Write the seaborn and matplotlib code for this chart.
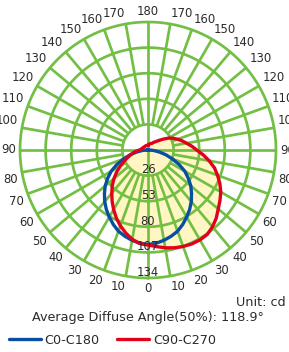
import numpy as np
import pandas as pd
import matplotlib
matplotlib.use("Agg")
import matplotlib.pyplot as plt
import seaborn as sns

# ---- data (cd), every 5 degrees ----
angles = list(range(0, 185, 5))
c0_c180 = [99, 98, 96, 93.5, 90.5, 86, 81, 76, 70.5, 64.5, 58.5, 51.5, 44.5, 36, 27, 19.5, 12, 6, 2,
           0, 0, 0, 0, 0, 0, 0, 0, 0, 0, 0, 0, 0, 0, 0, 0, 0, 0]
c90 = [99.5, 101.5, 104, 106, 107.5, 108.5, 108.7, 108, 105, 101, 96, 92, 88, 83, 77.5, 72, 65, 58, 51,
       46, 41, 37, 33, 29, 25, 20, 16, 13, 11, 9.5, 8, 7.5, 7, 6.5, 6, 5.5, 5]
c270 = [99.5, 98.3, 95, 90, 84.5, 78.5, 72, 65.5, 59, 53, 46.5, 40, 33.5, 27.5, 22.5, 18.5, 15.5, 12, 9,
        7.5, 7, 6.5, 6, 5.8, 5.5, 5.2, 5, 5, 5, 5, 5, 5, 5, 5, 5, 5, 5]
label_angles = list(range(0, 190, 10))
angle_labels = [str(a) for a in label_angles]
ring_values = [26.8, 53.6, 80.4, 107.2, 134]
ring_labels = ["26", "53", "80", "107", "134"]
unit_text = "Unit: cd"
diffuse_text = "Average Diffuse Angle(50%): 118.9\u00b0"
series_names = ["C0-C180", "C90-C270"]

GREEN = "#72bf44"
YELLOW = "#fff6c4"
BLUE = "#0a4ea2"
RED = "#e3001b"
TXT = "#2b2b2b"
RMAX = ring_values[-1]


def full_curve(left, right):
    th = [-a for a in angles[::-1]] + [a for a in angles[1:]]
    r = list(left[::-1]) + list(right[1:])
    return np.deg2rad(th), np.array(r, dtype=float)


th_b, r_b = full_curve(c0_c180, c0_c180)
th_r, r_r = full_curve(c270, c90)
df = pd.concat([
    pd.DataFrame({"theta": th_b, "cd": r_b, "plane": series_names[0]}),
    pd.DataFrame({"theta": th_r, "cd": r_r, "plane": series_names[1]}),
], ignore_index=True)

fig = plt.figure(figsize=(2.89, 3.52), dpi=100)
ax = fig.add_axes([20 / 289, 1 - 278 / 352, 256 / 289, 256 / 352], projection="polar")
ax.set_theta_zero_location("S")
ax.set_theta_direction(1)
ax.set_rlim(0, RMAX)
ax.grid(False)
ax.set_xticks([])
ax.set_yticks([])
ax.spines["polar"].set_visible(False)
ax.patch.set_alpha(0)

# fill under C90-C270 (two halves, theta increasing, closed at the origin)
th_right = np.deg2rad(angles)
th_left = np.deg2rad([360 - a for a in angles[::-1]])
ax.fill(np.concatenate([[0], th_right, [np.pi]]), np.concatenate([[0], c90, [0]]),
        color=YELLOW, zorder=1, lw=0)
ax.fill(np.concatenate([[np.pi], th_left, [2 * np.pi]]), np.concatenate([[0], c270[::-1], [0]]),
        color=YELLOW, zorder=1, lw=0)

# grid
gw = 1.95
tt = np.linspace(0, 2 * np.pi, 721)
for rv in ring_values:
    ax.plot(tt, np.full_like(tt, rv), color=GREEN, lw=gw, zorder=2, clip_on=False)
for a in range(0, 360, 10):
    t = np.deg2rad(a)
    r0 = 0 if a % 90 == 0 else ring_values[0]
    ax.plot([t, t], [r0, RMAX], color=GREEN, lw=gw, zorder=2, clip_on=False, solid_capstyle="butt")

# curves
sns.lineplot(data=df, x="theta", y="cd", hue="plane", sort=False, estimator=None,
             units="plane", palette=[BLUE, RED], linewidth=2.4, ax=ax, zorder=3, legend=True)
for ln in ax.get_lines()[-2:]:
    ln.set_clip_on(False)
    ln.set_solid_joinstyle("round")
handles, labels = ax.get_legend_handles_labels()
if ax.get_legend() is not None:
    ax.get_legend().remove()
ax.set_xlabel("")
ax.set_ylabel("")

# angle labels
rl = RMAX * 1.032
fs = 8.4
for a, lab in zip(label_angles, angle_labels):
    for sgn in ([1, -1] if 0 < a < 180 else [1]):
        t = np.deg2rad(sgn * a)
        if a == 0 or a == 180:
            ha = "center"
        else:
            ha = "left" if sgn > 0 else "right"
        if a == 90:
            va = "center"
        elif a < 90:
            va = "top"
        else:
            va = "bottom"
        ax.text(t, rl, lab, ha=ha, va=va, fontsize=fs, color=TXT, clip_on=False, zorder=5)

# ring labels
for rv, lab in zip(ring_values, ring_labels):
    ax.text(0, rv - 6.0, lab, ha="center", va="center", fontsize=fs, color=TXT, zorder=5)

fig.text(286 / 289, 1 - 302.5 / 352, unit_text, ha="right", va="center", fontsize=9.2, color=TXT)
fig.text(148 / 289, 1 - 317.5 / 352, diffuse_text, ha="center", va="center", fontsize=9.2, color=TXT)
leg = fig.legend(handles, labels, loc="center left", bbox_to_anchor=(8.7 / 289, 1 - 340 / 352), ncol=2,
                 frameon=False, handlelength=2.5, handletextpad=0.3, columnspacing=1.4,
                 borderpad=0, borderaxespad=0, fontsize=9.2, labelcolor=TXT)
for ln in leg.get_lines():
    ln.set_solid_capstyle("round")

fig.savefig("out.png", dpi=100)
